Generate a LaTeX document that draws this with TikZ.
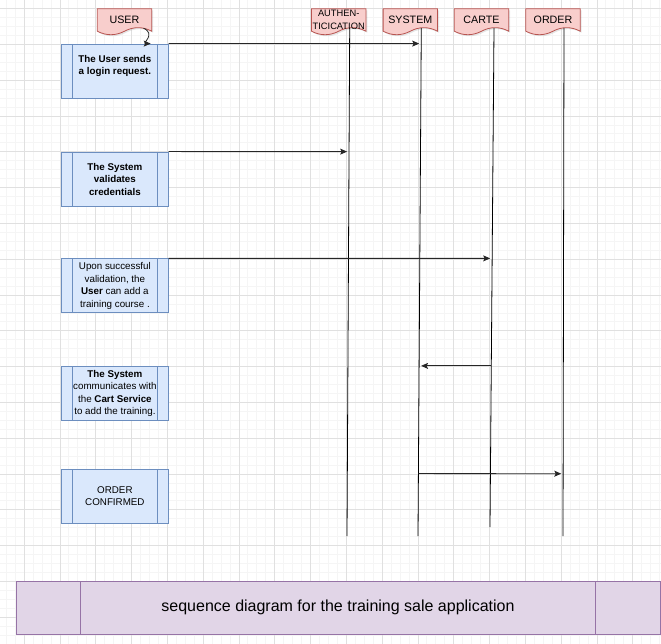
\documentclass[tikz,border=0pt]{standalone}
\usepackage{fontspec}
\setmainfont{Liberation Sans}
\usetikzlibrary{arrows.meta, calc, shadows, backgrounds}

\definecolor{headfill}{HTML}{F8CECC}
\definecolor{headline}{HTML}{B85450}
\definecolor{procfill}{HTML}{DAE8FC}
\definecolor{procline}{HTML}{6C8EBF}
\definecolor{banfill}{HTML}{E1D5E7}
\definecolor{banline}{HTML}{9673A6}

% document shape with a wavy bottom, drawn round a head node
\newcommand\headshape[1]{%
  \filldraw[fill=headfill, draw=headline, line width=0.8pt,
    drop shadow={opacity=0.2, shadow xshift=1.5pt, shadow yshift=-1.5pt}]
    (#1.north west) -- (#1.north east) -- (#1.south east)
    .. controls ([xshift=-9pt,yshift=4.7pt]#1.south east) and ([xshift=9pt,yshift=4.7pt]#1.south) .. (#1.south)
    .. controls ([xshift=-9pt,yshift=-4.7pt]#1.south) and ([xshift=9pt,yshift=-4.7pt]#1.south west) .. (#1.south west)
    -- cycle;}

\begin{document}
\begin{tikzpicture}[
        x=1pt, y=-1pt, % pixel units, y downwards
        head/.style={minimum width=54pt, minimum height=22pt, inner sep=0pt, align=center,
            font=\fontsize{10.7pt}{13pt}\selectfont},
        process/.style={draw=procline, fill=procfill, line width=0.8pt, minimum width=106.8pt,
            minimum height=54pt, inner sep=0pt, align=center, font=\fontsize{9.8pt}{12.5pt}\selectfont,
            path picture={\draw[procline, line width=0.8pt]
                ([xshift=10.5pt]path picture bounding box.north west) -- ([xshift=10.5pt]path picture bounding box.south west)
                ([xshift=-10.5pt]path picture bounding box.north east) -- ([xshift=-10.5pt]path picture bounding box.south east);}},
        banner/.style={draw=banline, fill=banfill, line width=0.8pt, minimum width=644pt, minimum height=53pt,
            inner sep=0pt, font=\fontsize{16pt}{19pt}\selectfont,
            path picture={\draw[banline, line width=0.8pt]
                ([xshift=64.5pt]path picture bounding box.north west) -- ([xshift=64.5pt]path picture bounding box.south west)
                ([xshift=-64.5pt]path picture bounding box.north east) -- ([xshift=-64.5pt]path picture bounding box.south east);}},
        life/.style={draw=black, line width=0.8pt},
        msg/.style={draw=black!85, line width=0.8pt, -{Stealth[length=7pt, width=6pt, inset=1.5pt]}, shorten >=2pt},
    ]

    \useasboundingbox (0,0) rectangle (661,644);

    % lifeline heads
    \node[head] (user) at (124.5,20) {USER};
    \node[head, font=\fontsize{9.3pt}{13pt}\selectfont] (auth) at (338.7,20) {AUTHEN-\\TICICATION};
    \node[head] (sys) at (410.3,20) {SYSTEM};
    \node[head] (cart) at (481.5,20) {CARTE};
    \node[head] (ord) at (553,20) {ORDER};

    \begin{scope}[on background layer]
        \draw[black!4, line width=0.6pt, step=8.95pt, shift={(24,8.5)}] (-24,-8.5) grid (637,635.5);
        \draw[black!12, line width=0.6pt, step=35.8pt, shift={(24,8.5)}] (-24,-8.5) grid (637,635.5);
        \headshape{user}
        \headshape{auth}
        \headshape{sys}
        \headshape{cart}
        \headshape{ord}
    \end{scope}

    % lifelines
    \coordinate (authT) at ([xshift=11pt,yshift=3pt]auth.south);
    \coordinate (sysT) at ([xshift=11pt,yshift=3pt]sys.south);
    \coordinate (cartT) at ([xshift=12.5pt,yshift=3pt]cart.south);
    \coordinate (ordT) at ([xshift=11pt,yshift=3pt]ord.south);
    \coordinate (authB) at (347,536);
    \coordinate (sysB) at (418,536);
    \coordinate (cartB) at (490,527);
    \coordinate (ordB) at (563,536);
    \draw[life] (authT) -- (authB);
    \draw[life] (sysT) -- (sysB);
    \draw[life] (cartT) -- (cartB);
    \draw[life] (ordT) -- (ordB);

    % steps
    \node[process] (b1) at (114.9,71) {\textbf{The User sends}\\\textbf{a login request.}\\~};
    \node[process] (b2) at (114.9,179) {\textbf{The System}\\\textbf{validates}\\\textbf{credentials}};
    \node[process] (b3) at (114.9,285.8) {Upon successful\\validation, the\\\textbf{User} can add a\\training course .};
    \node[process] (b4) at (114.9,393.3) {\textbf{The System}\\communicates with\\the \textbf{Cart Service}\\to add the training.};
    \node[process] (b5) at (114.9,496.3) {ORDER\\CONFIRMED};

    \node[banner] (title) at (338,607.5) {sequence diagram for the training sale application};

    % messages
    \coordinate (a4) at (b4.north east);
    \coordinate (a5) at ([yshift=-4.7pt]b5.north east);
    \coordinate (a5w) at ([yshift=-4.7pt]b5.north west);
    \draw[msg, shorten >=0pt] ([xshift=19pt,yshift=3pt]user.south) .. controls +(13,6) and +(-9,0) .. ([xshift=-18pt]b1.north east);
    \draw[msg] (b1.north east) -- (intersection of sysT--sysB and b1.north west--b1.north east);
    \draw[msg] (b2.north east) -- (intersection of authT--authB and b2.north west--b2.north east);
    \draw[msg] (b3.north east) -- (intersection of cartT--cartB and b3.north west--b3.north east);
    \draw[msg] (intersection of cartT--cartB and b4.north west--a4) -- (intersection of sysT--sysB and b4.north west--a4);
    \draw[msg] (intersection of sysT--sysB and a5w--a5) -- (intersection of ordT--ordB and a5w--a5);
\end{tikzpicture}
\end{document}
